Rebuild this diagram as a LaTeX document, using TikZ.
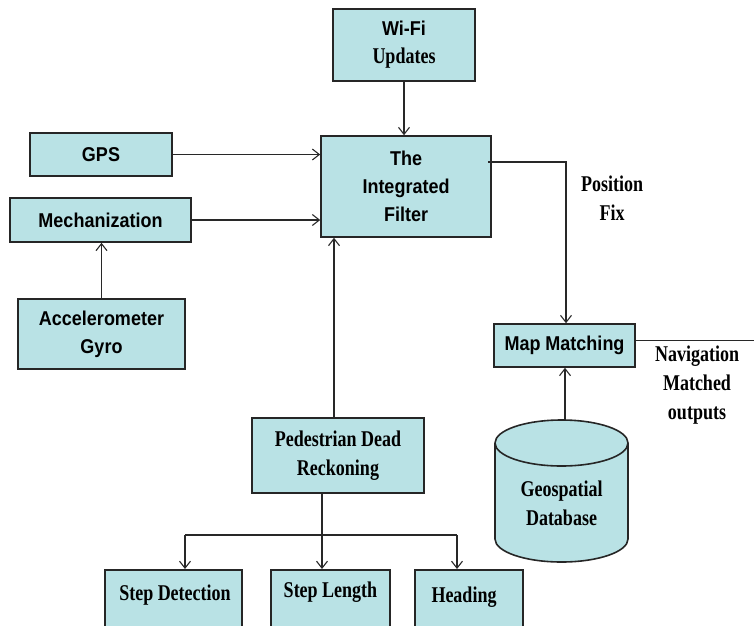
\documentclass[tikz,border=0pt]{standalone}
\usepackage{fontspec}
\setmainfont{Liberation Serif}[FakeStretch=0.8]
\newfontfamily\boxsans{Liberation Sans}[FakeStretch=0.9]
\usetikzlibrary{arrows.meta}
\definecolor{boxfill}{RGB}{185,226,229}
\definecolor{edge}{RGB}{40,40,40}

\tikzset{
  box/.style={draw=black!85, line width=1.6pt, fill=boxfill, inner sep=0pt, align=center},
  sanslbl/.style={font=\boxsans\bfseries\fontsize{20}{28}\selectfont},
  seriflbl/.style={font=\bfseries\fontsize{22.5}{29}\selectfont, align=center, inner sep=0pt},
  link/.style={draw=edge, line width=1.1pt, -{Straight Barb[length=7pt,width=11pt]}},
  plain/.style={draw=edge, line width=1.1pt},
}

\begin{document}
\begin{tikzpicture}[x=1pt, y=-1pt]
\path[use as bounding box] (0,0) rectangle (754,625);
\clip (0,0) rectangle (754,625);

% sensor and filter blocks
\node[box, font=\fontsize{20}{28}\selectfont, minimum width=142, minimum height=72] (wifi) at (404,45)
  {{\boxsans\bfseries Wi-Fi}\\{\bfseries\fontsize{22.5}{28}\selectfont Updates}};
\node[box, sanslbl, minimum width=170, minimum height=101] (filter) at (406,186.5) {The\\Integrated\\Filter};
\node[box, sanslbl, minimum width=142, minimum height=43] (gps) at (101,154.5) {GPS};
\node[box, sanslbl, minimum width=181, minimum height=44] (mech) at (100.5,220) {Mechanization};
\node[box, sanslbl, minimum width=167, minimum height=70] (accel) at (101.5,334) {Accelerometer\\Gyro};
\node[box, sanslbl, minimum width=141, minimum height=43] (mm) at (564.5,345.5) {Map Matching};
\node[box, seriflbl, minimum width=172, minimum height=75] (pdr) at (338,455.5) {Pedestrian Dead\\Reckoning};

% PDR sub-blocks (run past the lower edge)
\node[box, minimum width=137, minimum height=90, anchor=north west] (sd) at (104,569) {};
\node[box, minimum width=119, minimum height=90, anchor=north west] (sl) at (270,569) {};
\node[box, minimum width=108, minimum height=90, anchor=north west] (hd) at (414,569) {};
\node[seriflbl] (sdt) at (175,595) {Step Detection};
\node[seriflbl] (slt) at (330.5,592) {Step Length};
\node[seriflbl] (hdt) at (464,597) {Heading};

% geospatial database cylinder
\fill[boxfill] (495,443) -- (495,539)
  arc[start angle=180, end angle=360, x radius=66.5pt, y radius=23pt]
  -- (628,443)
  arc[start angle=0, end angle=180, x radius=66.5pt, y radius=23pt] -- cycle;
\draw[black!85, line width=1.6pt] (495,443) -- (495,539)
  arc[start angle=180, end angle=360, x radius=66.5pt, y radius=23pt]
  -- (628,443);
\draw[black!85, line width=1.6pt] (561.5,443) ellipse[x radius=66.5pt, y radius=23pt];
\node[seriflbl] (dblbl) at (561.5,503) {Geospatial\\Database};
\coordinate (dbtop) at (565,420);

% free labels
\node[seriflbl] (posfix) at (612,198) {Position\\Fix};
\node[seriflbl] (navlbl) at (697,385) {Navigation\\Matched\\outputs};

% connectors
\draw[link] (wifi.south) -- (wifi.south |- filter.north);
\draw[link] (gps.east) -- (gps.east -| filter.west);
\draw[link] (mech.east) -- (mech.east -| filter.west);
\draw[link] (accel.north) -- (accel.north |- mech.south);
\draw[link] ([xshift=-4pt]pdr.north) -- ([xshift=-4pt]pdr.north |- filter.south);

\coordinate (fork) at (322,535);
\coordinate (forkL) at (185,535);
\coordinate (forkR) at (457,535);
\draw[plain] ([xshift=-16pt]pdr.south) -- (fork);
\draw[plain] (forkL) -- (forkR);
\draw[link] (forkL) -- (forkL |- sd.north);
\draw[link] (fork) -- (fork |- sl.north);
\draw[link] (forkR) -- (forkR |- hd.north);

\coordinate (bend) at (566,162);
\draw[link] ([xshift=-4pt]filter.east |- bend) -- (bend) -- (bend |- mm.north);
\draw[link] (dbtop) -- (dbtop |- mm.south);

\coordinate (navout) at (754,340.5);
\draw[plain] (mm.east |- navout) -- (navout);
\end{tikzpicture}
\end{document}
